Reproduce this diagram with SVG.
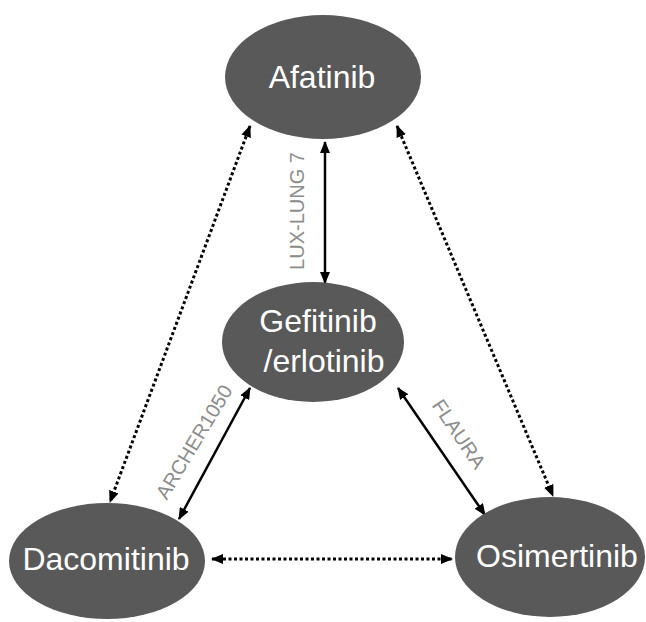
<svg xmlns="http://www.w3.org/2000/svg" width="646" height="622" viewBox="0 0 646 622">
<style>
.node{fill:#595959}
.nt{fill:#ffffff;font-family:"Liberation Sans",Arial,sans-serif;font-size:32px;text-anchor:middle}
.lbl{fill:#8c8c8c;font-family:"Liberation Sans",Arial,sans-serif;font-size:20px;text-anchor:middle;dominant-baseline:central}
.solid{stroke:#000;stroke-width:2.5;fill:none;marker-start:url(#ah);marker-end:url(#ah)}
.dot{stroke:#000;stroke-width:3;fill:none;stroke-dasharray:3 2.5;marker-start:url(#ah);marker-end:url(#ah)}
</style>
<defs>
<marker id="ah" viewBox="0 0 12 10" refX="11" refY="5" markerWidth="12" markerHeight="10" markerUnits="userSpaceOnUse" orient="auto-start-reverse">
<path d="M0,0 L12,5 L0,10 z" fill="#000"/>
</marker>
</defs>
<rect width="646" height="622" fill="#ffffff"/>
<g id="connectors">
<line class="solid" x1="325" y1="142" x2="325" y2="283"/>
<line class="solid" x1="179" y1="519" x2="250" y2="388"/>
<line class="solid" x1="398" y1="388" x2="485" y2="515"/>
<line class="dot" x1="250" y1="126" x2="110" y2="502"/>
<line class="dot" x1="397" y1="126" x2="553" y2="496"/>
<line class="dot" x1="212" y1="559" x2="452" y2="559"/>
<text class="lbl" transform="translate(297,211) rotate(-90)">LUX-LUNG 7</text>
<text class="lbl" transform="translate(194,442) rotate(-59)">ARCHER1050</text>
<text class="lbl" transform="translate(459,434) rotate(56)">FLAURA</text>
</g>
<g id="afatinib">
<ellipse class="node" cx="323" cy="77" rx="98" ry="62"/>
<text class="nt" x="322" y="88">Afatinib</text>
</g>
<g id="gefitinib">
<ellipse class="node" cx="313" cy="342" rx="91" ry="60"/>
<text class="nt" x="318" y="332">Gefitinib</text>
<text class="nt" x="324" y="372">/erlotinib</text>
</g>
<g id="dacomitinib">
<ellipse class="node" cx="107" cy="561" rx="98" ry="58"/>
<text class="nt" x="106" y="570">Dacomitinib</text>
</g>
<g id="osimertinib">
<ellipse class="node" cx="550" cy="557" rx="95" ry="60"/>
<text class="nt" x="557" y="567">Osimertinib</text>
</g>
</svg>
